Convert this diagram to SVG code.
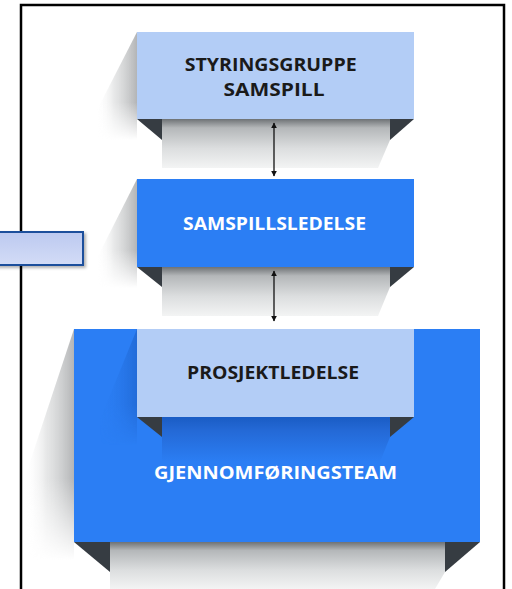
<svg xmlns="http://www.w3.org/2000/svg" width="512" height="589" viewBox="0 0 512 589">
  <defs>
    <style>
      .frame { fill: #ffffff; stroke: #000000; stroke-width: 2.5; }
      .light { fill: #b3cdf6; }
      .dark { fill: #2b7ef4; }
      .flap { fill: #363c42; }
      .lbl { font-family: "Open Sans", "Liberation Sans", sans-serif; font-weight: 700; font-size: 18px; text-anchor: middle; }
      .lbl-dark { fill: #1a1a1a; }
      .lbl-light { fill: #ffffff; }
      .conn { stroke: #111111; stroke-width: 1.3; fill: none; }
    </style>
    <!-- side shadow: grey fading out to the left -->
    <linearGradient id="sideShade" x1="1" y1="0" x2="0" y2="0">
      <stop offset="0" stop-color="#9a9c9e" stop-opacity="0.75"/>
      <stop offset="0.55" stop-color="#c9cbcc" stop-opacity="0.45"/>
      <stop offset="1" stop-color="#ffffff" stop-opacity="0"/>
    </linearGradient>
    <linearGradient id="sideFade" x1="0" y1="0" x2="0" y2="1">
      <stop offset="0" stop-color="#ffffff"/>
      <stop offset="0.65" stop-color="#ffffff"/>
      <stop offset="1" stop-color="#000000"/>
    </linearGradient>
    <mask id="sideMaskTop" maskContentUnits="objectBoundingBox">
      <rect x="0" y="0" width="1" height="1" fill="url(#sideFade)"/>
    </mask>
    <!-- shadow under a box: dark at the top edge, fading downwards -->
    <linearGradient id="underShade" x1="0" y1="0" x2="0" y2="1">
      <stop offset="0" stop-color="#6e7275"/>
      <stop offset="0.18" stop-color="#b4b7b9"/>
      <stop offset="0.6" stop-color="#dcdedf"/>
      <stop offset="1" stop-color="#f3f4f4"/>
    </linearGradient>
    <!-- shading of the inner box falling on the blue panel -->
    <linearGradient id="blueUnder" x1="0" y1="0" x2="0" y2="1">
      <stop offset="0" stop-color="#1a5cc4"/>
      <stop offset="0.3" stop-color="#2469d6"/>
      <stop offset="1" stop-color="#2b7ef4"/>
    </linearGradient>
    <linearGradient id="blueSide" x1="1" y1="0" x2="0" y2="0">
      <stop offset="0" stop-color="#1e63cc" stop-opacity="0.7"/>
      <stop offset="1" stop-color="#2b7ef4" stop-opacity="0"/>
    </linearGradient>
    <linearGradient id="tagFill" x1="0" y1="0" x2="0" y2="1">
      <stop offset="0" stop-color="#bcc9f0"/>
      <stop offset="1" stop-color="#d3dcf6"/>
    </linearGradient>
    <filter id="tagShadow" x="-10%" y="-20%" width="125%" height="160%">
      <feDropShadow dx="2" dy="2" stdDeviation="1.5" flood-color="#000000" flood-opacity="0.3"/>
    </filter>
    <marker id="head" viewBox="0 0 10 10" refX="9" refY="5" markerWidth="6" markerHeight="7" orient="auto-start-reverse" markerUnits="userSpaceOnUse">
      <path d="M0,0 L10,5 L0,10 z" fill="#111111"/>
    </marker>
  </defs>

  <!-- outer frame, open at the bottom -->
  <rect class="frame" x="21" y="5" width="483" height="620"/>

  <!-- side tag overlapping the frame -->
  <g id="tag">
    <rect x="-4" y="232" width="87" height="33" fill="url(#tagFill)" stroke="#1f4f9c" stroke-width="2" filter="url(#tagShadow)"/>
  </g>

  <!-- STYRINGSGRUPPE SAMSPILL -->
  <g id="styringsgruppe">
    <polygon points="137,32 137,140 96,140 96,112" fill="url(#sideShade)" mask="url(#sideMaskTop)"/>
    <polygon points="162,119 390,119 390,140 378,168 162,168" fill="url(#underShade)"/>
    <rect class="light" x="137" y="32" width="277" height="87"/>
    <polygon class="flap" points="137,119 162,119 162,140"/>
    <polygon class="flap" points="390,119 414,119 390,140"/>
    <text class="lbl lbl-dark">
      <tspan x="273" y="71" textLength="172" lengthAdjust="spacingAndGlyphs">STYRINGSGRUPPE</tspan>
      <tspan x="274" y="96" textLength="101" lengthAdjust="spacingAndGlyphs">SAMSPILL</tspan>
    </text>
  </g>

  <!-- SAMSPILLSLEDELSE -->
  <g id="samspillsledelse">
    <polygon points="137,179 137,288 96,288 96,260" fill="url(#sideShade)" mask="url(#sideMaskTop)"/>
    <polygon points="162,267 390,267 390,287 378,316 162,316" fill="url(#underShade)"/>
    <rect class="dark" x="137" y="179" width="277" height="88"/>
    <polygon class="flap" points="137,267 162,267 162,287"/>
    <polygon class="flap" points="390,267 414,267 390,287"/>
    <text class="lbl lbl-light" x="274.5" y="230" textLength="183" lengthAdjust="spacingAndGlyphs">SAMSPILLSLEDELSE</text>
  </g>

  <!-- GJENNOMFØRINGSTEAM with PROSJEKTLEDELSE on top -->
  <g id="gjennomforingsteam">
    <polygon points="74,329 74,560 24,560 24,480" fill="url(#sideShade)" mask="url(#sideMaskTop)"/>
    <polygon points="110,542 445,542 445,572 435,589 110,589" fill="url(#underShade)"/>
    <rect class="dark" x="74" y="329" width="406" height="213"/>
    <polygon class="flap" points="74,542 110,542 110,572"/>
    <polygon class="flap" points="445,542 480,542 445,572"/>
    <text class="lbl lbl-light" x="275.5" y="479" textLength="243" lengthAdjust="spacingAndGlyphs">GJENNOMFØRINGSTEAM</text>
  </g>

  <g id="prosjektledelse">
    <polygon points="137,329 137,445 100,445 100,420" fill="url(#blueSide)" mask="url(#sideMaskTop)"/>
    <polygon points="162,417 390,417 390,437 380,462 162,462" fill="url(#blueUnder)"/>
    <rect class="light" x="137" y="329" width="277" height="88"/>
    <polygon class="flap" points="137,417 162,417 162,437"/>
    <polygon class="flap" points="390,417 414,417 390,437"/>
    <text class="lbl lbl-dark" x="273" y="379" textLength="172" lengthAdjust="spacingAndGlyphs">PROSJEKTLEDELSE</text>
  </g>

  <!-- connectors -->
  <g id="connectors">
    <line class="conn" x1="274" y1="123" x2="274" y2="176" marker-start="url(#head)" marker-end="url(#head)"/>
    <line class="conn" x1="274" y1="271" x2="274" y2="321" marker-start="url(#head)" marker-end="url(#head)"/>
  </g>
</svg>
